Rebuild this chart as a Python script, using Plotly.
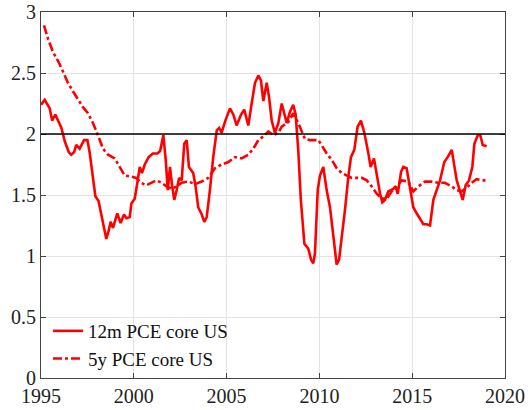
import plotly.graph_objects as go

# 12-month PCE core inflation (US)
yr_12m = [1995.0, 1995.2, 1995.47, 1995.6, 1995.77, 1995.95, 1996.1, 1996.28, 1996.5, 1996.63,
          1996.78, 1996.9, 1997.08, 1997.32, 1997.5, 1997.62, 1997.8, 1997.93, 1998.1, 1998.29,
          1998.43, 1998.52, 1998.65, 1998.75, 1998.88, 1999.11, 1999.29, 1999.47, 1999.6, 1999.78,
          1999.87, 2000.05, 2000.19, 2000.32, 2000.44, 2000.59, 2000.8, 2001.03, 2001.27, 2001.42,
          2001.59, 2001.72, 2001.83, 2001.95, 2002.07, 2002.18, 2002.31, 2002.44, 2002.58, 2002.72,
          2002.85, 2002.97, 2003.2, 2003.33, 2003.47, 2003.66, 2003.8, 2003.93, 2004.1, 2004.28,
          2004.47, 2004.6, 2004.73, 2004.91, 2005.18, 2005.36, 2005.54, 2005.78, 2005.95, 2006.17,
          2006.35, 2006.53, 2006.71, 2006.85, 2006.98, 2007.16, 2007.28, 2007.43, 2007.6, 2007.79,
          2007.97, 2008.11, 2008.24, 2008.41, 2008.59, 2008.72, 2008.86, 2009.0, 2009.19, 2009.4,
          2009.55, 2009.67, 2009.76, 2009.91, 2010.03, 2010.21, 2010.39, 2010.57, 2010.75, 2010.93,
          2011.06, 2011.2, 2011.38, 2011.56, 2011.7, 2011.88, 2012.06, 2012.24, 2012.42, 2012.64,
          2012.76, 2012.94, 2013.09, 2013.27, 2013.39, 2013.53, 2013.71, 2013.98, 2014.1, 2014.22,
          2014.4, 2014.52, 2014.7, 2014.88, 2015.06, 2015.24, 2015.42, 2015.6, 2015.78, 2015.96,
          2016.14, 2016.32, 2016.5, 2016.73, 2016.91, 2017.13, 2017.27, 2017.4, 2017.58, 2017.72,
          2017.88, 2018.06, 2018.24, 2018.35, 2018.53, 2018.67, 2018.8, 2019.01]
pce_12m = [2.24, 2.28, 2.21, 2.11, 2.16, 2.10, 2.05, 1.94, 1.85, 1.83,
           1.85, 1.91, 1.88, 1.95, 1.95, 1.85, 1.65, 1.49, 1.45, 1.30,
           1.19, 1.14, 1.21, 1.28, 1.23, 1.35, 1.27, 1.34, 1.31, 1.32,
           1.43, 1.47, 1.60, 1.73, 1.68, 1.75, 1.81, 1.84, 1.84, 1.86,
           1.99, 1.79, 1.54, 1.73, 1.57, 1.46, 1.54, 1.64, 1.62, 1.92,
           1.95, 1.73, 1.68, 1.57, 1.40, 1.34, 1.28, 1.32, 1.54, 1.81,
           2.03, 2.05, 2.01, 2.10, 2.21, 2.16, 2.07, 2.16, 2.20, 2.07,
           2.25, 2.42, 2.48, 2.44, 2.27, 2.42, 2.31, 2.11, 2.01, 2.09,
           2.25, 2.17, 2.09, 2.18, 2.24, 2.16, 1.87, 1.46, 1.10, 1.06,
           0.97, 0.94, 1.02, 1.54, 1.66, 1.73, 1.54, 1.40, 1.16, 0.93,
           0.97, 1.13, 1.38, 1.65, 1.81, 1.87, 2.06, 2.11, 2.01, 1.84,
           1.73, 1.80, 1.65, 1.51, 1.44, 1.46, 1.53, 1.55, 1.57, 1.51,
           1.69, 1.73, 1.72, 1.57, 1.40, 1.35, 1.31, 1.26, 1.26, 1.25,
           1.46, 1.54, 1.62, 1.77, 1.81, 1.87, 1.73, 1.62, 1.53, 1.46,
           1.58, 1.62, 1.73, 1.92, 1.99, 1.99, 1.91, 1.90]

# 5-year PCE core inflation (US)
yr_5y = [1995.16, 1995.38, 1995.65, 1995.95, 1996.19, 1996.45, 1996.72, 1996.99, 1997.26, 1997.53,
         1997.8, 1998.07, 1998.34, 1998.61, 1998.97, 1999.24, 1999.51, 1999.87, 2000.13, 2000.4,
         2000.67, 2000.94, 2001.21, 2001.5, 2001.77, 2002.04, 2002.31, 2002.58, 2002.94, 2003.3,
         2003.66, 2004.01, 2004.37, 2004.73, 2005.09, 2005.45, 2005.81, 2006.17, 2006.44, 2006.71,
         2006.98, 2007.25, 2007.52, 2007.79, 2007.97, 2008.33, 2008.59, 2008.86, 2009.04, 2009.22,
         2009.49, 2009.76, 2009.94, 2010.12, 2010.39, 2010.66, 2010.93, 2011.2, 2011.47, 2011.74,
         2012.01, 2012.28, 2012.55, 2012.82, 2013.09, 2013.36, 2013.63, 2013.9, 2014.16, 2014.43,
         2014.79, 2015.06, 2015.33, 2015.69, 2016.05, 2016.4, 2016.76, 2017.13, 2017.4, 2017.67,
         2017.94, 2018.2, 2018.47, 2018.78, 2019.01]
pce_5y = [2.89, 2.78, 2.67, 2.59, 2.51, 2.42, 2.35, 2.28, 2.22, 2.17,
          2.09, 1.99, 1.88, 1.83, 1.80, 1.73, 1.66, 1.65, 1.64, 1.60,
          1.58, 1.60, 1.62, 1.60, 1.57, 1.55, 1.57, 1.60, 1.61, 1.59,
          1.61, 1.64, 1.72, 1.75, 1.77, 1.81, 1.80, 1.83, 1.88, 1.95,
          1.98, 2.02, 1.99, 2.01, 2.06, 2.10, 2.17, 2.09, 2.02, 1.96,
          1.95, 1.95, 1.95, 1.91, 1.84, 1.79, 1.72, 1.68, 1.66, 1.64,
          1.64, 1.64, 1.62, 1.57, 1.51, 1.47, 1.47, 1.53, 1.57, 1.62,
          1.61, 1.53, 1.57, 1.61, 1.61, 1.60, 1.60, 1.57, 1.54, 1.53,
          1.56, 1.60, 1.63, 1.62, 1.62]

x_ticks = [1995, 2000, 2005, 2010, 2015, 2020]
y_ticks = [0, 0.5, 1, 1.5, 2, 2.5, 3]
target = 2

font = "Liberation Serif"
axis_col = "#444444"

fig = go.Figure()
fig.add_trace(go.Scatter(x=yr_12m, y=pce_12m, mode="lines", name="12m PCE core US",
                         line=dict(color="#ff0000", width=2.6)))
fig.add_trace(go.Scatter(x=yr_5y, y=pce_5y, mode="lines", name="5y PCE core US",
                         line=dict(color="#ff0000", width=2.6, dash="dashdot")))
fig.add_hline(y=target, line=dict(color="black", width=1.5), layer="above")

axis_common = dict(showgrid=True, gridcolor="#e3e3e3", gridwidth=1, zeroline=False,
                   showline=True, linecolor=axis_col, linewidth=1.2, mirror="ticks",
                   ticks="inside", ticklen=5, tickcolor=axis_col, automargin=False,
                   tickfont=dict(family=font, size=20, color="#222222"))

fig.update_layout(
    width=528, height=410,
    margin=dict(l=41, r=23, t=12, b=32, autoexpand=False),
    paper_bgcolor="white", plot_bgcolor="white",
    font=dict(family=font, size=20, color="#222222"),
    showlegend=True,
    legend=dict(x=0.015, y=0.0, xanchor="left", yanchor="bottom",
                bgcolor="rgba(255,255,255,0)", borderwidth=0,
                font=dict(family=font, size=19, color="#111111"),
                tracegroupgap=0),
    xaxis=dict(range=[1995, 2020], tickvals=x_ticks, **axis_common),
    yaxis=dict(range=[0, 3], tickvals=y_ticks, **axis_common),
)

fig.write_html("out.html", config={"displayModeBar": False},
               post_script="document.body.style.margin='0';document.body.style.overflow='hidden';")
